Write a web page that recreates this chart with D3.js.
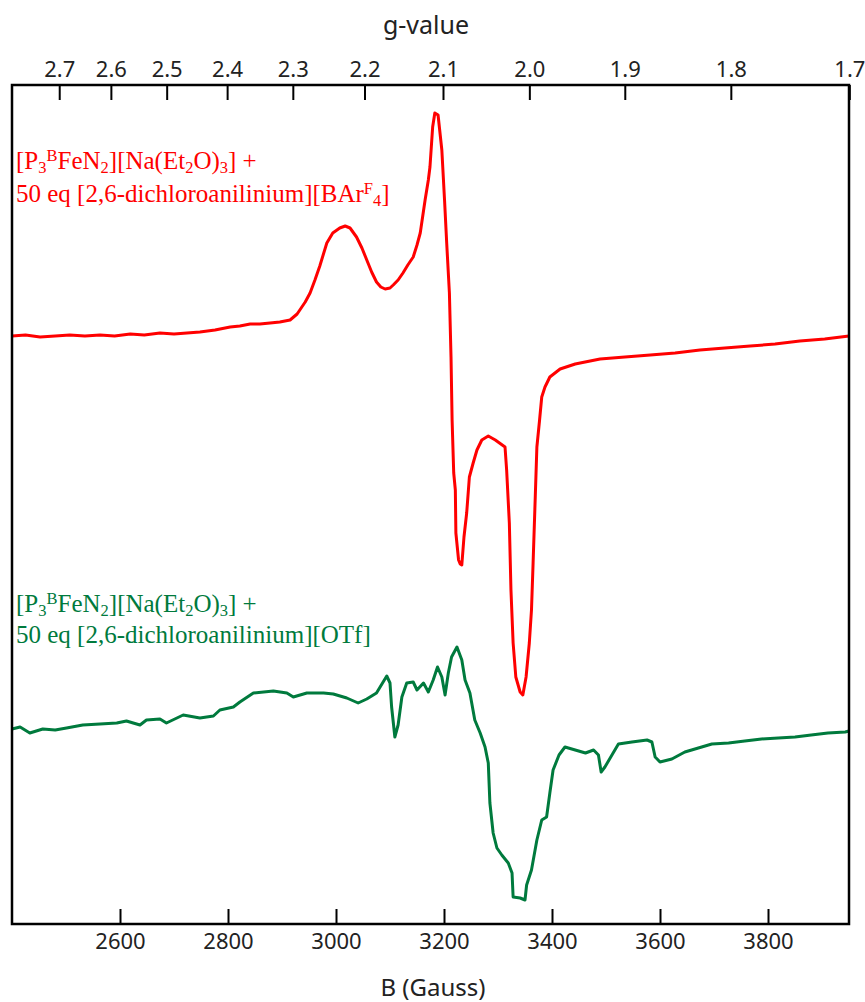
<!DOCTYPE html>
<html>
<head>
<meta charset="utf-8">
<script src="https://cdn.jsdelivr.net/npm/d3@7/dist/d3.min.js"></script>
<style>
  html, body { margin: 0; padding: 0; background: #fff; }
  svg { display: block; }
</style>
</head>
<body>
<svg id="chart" width="865" height="1002"></svg>
<script>
// ---------------- data ----------------
const fieldDomain = [2400, 3950];               // B (Gauss)
const fieldTicks = [2600, 2800, 3000, 3200, 3400, 3600, 3800];
const gTicks = [2.7, 2.6, 2.5, 2.4, 2.3, 2.2, 2.1, 2.0, 1.9, 1.8, 1.7];
const microwaveGHz = 9.40;                      // B = h*nu/(muB*g)
const intensityDomain = [0, 839];

// Red trace: [P3BFeN2][Na(Et2O)3] + 50 eq [2,6-dichloroanilinium][BArF4]
const redOffset = 588;
const redB = [2400,2425,2452,2480,2507,2535,2563,2590,2619,2645,2674,2700,2748,2776,2804,2822,2841,2859,2878,2896,2915,2928,2933,2943,2952,2961,2970,2983,2994,3007,3017,3026,3038,3048,3057,3066,3075,3083,3091,3100,3106,3115,3124,3133,3143,3150,3156,3165,3171,3174,3179,3183,3189,3193,3196,3201,3205,3210,3213,3215,3218,3221,3222,3227,3230,3233,3237,3242,3247,3254,3261,3270,3282,3295,3313,3316,3321,3324,3328,3333,3341,3346,3352,3358,3362,3365,3369,3372,3377,3381,3387,3396,3415,3443,3489,3535,3582,3628,3674,3720,3767,3813,3859,3905,3950];
const redI = [0,1,-1,0,1,0,1,0,2,1,3,2,4,6,9,10,12,12,13,14,16,22,26,34,43,56,70,93,103,108,110,108,99,88,76,64,54,49,47,48,51,56,63,71,79,91,103,136,156,169,209,223,221,201,186,136,93,43,-21,-84,-137,-154,-197,-224,-228,-229,-201,-177,-141,-127,-114,-104,-100,-104,-111,-134,-187,-254,-307,-341,-356,-359,-341,-307,-274,-227,-161,-111,-84,-61,-51,-41,-33,-28,-23,-21,-19,-17,-14,-12,-10,-8,-5,-3,0];

// Green trace: [P3BFeN2][Na(Et2O)3] + 50 eq [2,6-dichloroanilinium][OTf]
const greenOffset = 195;
const greenB = [2400,2415,2433,2457,2480,2501,2531,2563,2594,2612,2637,2649,2674,2686,2717,2748,2773,2785,2810,2822,2847,2884,2909,2921,2946,2977,2995,3020,3041,3057,3075,3094,3100,3103,3109,3115,3122,3131,3143,3150,3162,3171,3180,3188,3196,3202,3208,3214,3224,3233,3239,3248,3257,3267,3276,3282,3285,3291,3298,3307,3319,3326,3328,3341,3350,3353,3362,3372,3381,3390,3396,3402,3413,3424,3443,3462,3477,3486,3491,3498,3511,3523,3548,3576,3585,3591,3600,3622,3646,3671,3696,3727,3757,3788,3819,3850,3880,3911,3943,3950];
const greenI = [0,2,-4,0,-1,1,4,5,6,8,4,9,10,6,14,11,13,19,22,27,36,38,36,32,36,36,35,31,26,30,36,53,46,22,-8,4,32,46,47,39,46,37,49,62,52,34,56,72,82,69,49,36,9,-4,-18,-34,-74,-104,-119,-126,-134,-144,-168,-169,-171,-156,-141,-111,-91,-88,-64,-41,-26,-18,-21,-24,-21,-26,-43,-38,-26,-15,-13,-11,-13,-28,-33,-30,-23,-19,-15,-14,-12,-10,-9,-8,-6,-4,-3,-2];

const xLabel = "B (Gauss)";
const topLabel = "g-value";

(function draw() {
  const svg = d3.select("#chart");
  const mLeft = 12, mRight = 849, mTop = 85, mBottom = 924;
  const x = d3.scaleLinear().domain(fieldDomain).range([mLeft, mRight]);
  const y = d3.scaleLinear().domain(intensityDomain).range([mBottom, mTop]);
  const gToB = g => 714.4775 * microwaveGHz / g;

  const axisFont = "'Noto Sans', 'Open Sans', sans-serif";
  const serif = "'Liberation Serif', 'Times New Roman', serif";

  const lineGen = d3.line().x(d => x(d[0])).y(d => y(d[1]));
  const redData = redB.map((b, i) => [b, redOffset + redI[i]]);
  const greenData = greenB.map((b, i) => [b, greenOffset + greenI[i]]);

  svg.append("path").datum(greenData).attr("d", lineGen)
    .attr("fill", "none").attr("stroke", "#007a3d").attr("stroke-width", 3).attr("stroke-linejoin", "round");
  svg.append("path").datum(redData).attr("d", lineGen)
    .attr("fill", "none").attr("stroke", "#ff0000").attr("stroke-width", 3).attr("stroke-linejoin", "round");

  const bAxis = svg.append("g").attr("transform", `translate(0,${mBottom})`)
    .call(d3.axisBottom(x).tickValues(fieldTicks).tickFormat(d3.format("d"))
      .tickSizeInner(-15).tickSizeOuter(0).tickPadding(9));
  bAxis.select(".domain").remove();
  bAxis.selectAll("line").attr("stroke", "#000").attr("stroke-width", 2);
  bAxis.selectAll("text").attr("font-family", axisFont).attr("font-size", 22).attr("fill", "#222");

  const tAxis = svg.append("g").attr("transform", `translate(0,${mTop})`)
    .call(d3.axisTop(x).tickValues(gTicks.map(gToB)).tickFormat((d, i) => d3.format(".1f")(gTicks[i]))
      .tickSizeInner(-15).tickSizeOuter(0).tickPadding(8));
  tAxis.select(".domain").remove();
  tAxis.selectAll("line").attr("stroke", "#000").attr("stroke-width", 2);
  tAxis.selectAll("text").attr("font-family", axisFont).attr("font-size", 22).attr("fill", "#222");

  svg.append("rect").attr("x", mLeft).attr("y", mTop).attr("width", mRight - mLeft).attr("height", mBottom - mTop)
    .attr("fill", "none").attr("stroke", "#000").attr("stroke-width", 2.5);

  svg.append("text").attr("x", 433).attr("y", 996).attr("text-anchor", "middle")
    .attr("font-family", axisFont).attr("font-size", 24).attr("fill", "#222").text(xLabel);
  svg.append("text").attr("x", 426).attr("y", 34).attr("text-anchor", "middle")
    .attr("font-family", axisFont).attr("font-size", 25).attr("fill", "#222").text(topLabel);

  function richLine(xPos, yPos, parts, color) {
    const t = svg.append("text").attr("x", xPos).attr("y", yPos)
      .attr("font-family", serif).attr("font-size", 25).attr("fill", color);
    parts.forEach(p => {
      const s = t.append("tspan").text(p.t);
      if (p.sub) s.attr("font-size", 16.5).attr("baseline-shift", "-25%");
      if (p.sup) s.attr("font-size", 16.5).attr("baseline-shift", "45%");
    });
  }
  const line1 = [{t: "[P"}, {t: "3", sub: true}, {t: "B", sup: true}, {t: "FeN"}, {t: "2", sub: true},
    {t: "][Na(Et"}, {t: "2", sub: true}, {t: "O)"}, {t: "3", sub: true}, {t: "] +"}];
  const redLine2 = [{t: "50 eq [2,6-dichloroanilinium][BAr"}, {t: "F", sup: true}, {t: "4", sub: true}, {t: "]"}];
  const greenLine2 = [{t: "50 eq [2,6-dichloroanilinium][OTf]"}];

  richLine(16, 169, line1, "#ff0000");
  richLine(16, 202, redLine2, "#ff0000");
  richLine(16, 612, line1, "#007a3d");
  richLine(16, 643, greenLine2, "#007a3d");
})();
</script>
</body>
</html>
